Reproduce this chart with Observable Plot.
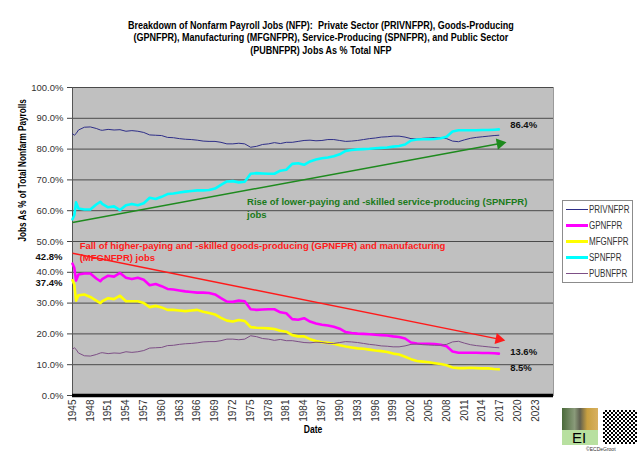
<!DOCTYPE html>
<html>
<head>
<meta charset="utf-8">
<script src="https://cdn.jsdelivr.net/npm/d3@7"></script>
<script src="https://cdn.jsdelivr.net/npm/@observablehq/plot@0.6"></script>
<style>
  body { margin: 0; background: #fff; width: 640px; height: 454px; position: relative; overflow: hidden; }
  #title { position: absolute; top: 18.5px; left: 0; width: 640px; text-align: center;
    font-family: "Liberation Sans", Arial, sans-serif; transform: scaleX(0.82); transform-origin: 325px 0;
    font-size: 11px; font-weight: bold; line-height: 12.7px; color: #000; white-space: nowrap; }
  #chart { position: absolute; top: 62px; left: 0; }
  #legend { position: absolute; left: 562px; top: 200px; width: 69px; height: 81px; background: #fff;
    border: 1px solid #8c8c8c; font-family: "Liberation Sans", Arial, sans-serif;
    font-size: 10px; color: #333; }
  .lg { position: absolute; left: 3px; height: 14px; display: flex; align-items: center; white-space: nowrap; }
  .lg span.sw { display: inline-block; width: 22px; margin-right: 1px; }
  .lg span.tx { display: inline-block; transform: scaleX(0.8); transform-origin: 0 50%; }
  #logo { position: absolute; left: 562px; top: 408px; width: 36px; height: 37px; background: #b8e0a0; }
  #logo .pic { position: absolute; left: 0; top: 0; width: 36px; height: 22px;
    background: linear-gradient(90deg, #4a6a3a 0%, #8a9a7a 35%, #606050 50%, #c8a040 70%, #d8b060 100%); }
  #logo .ei { position: absolute; left: 10px; top: 21px; font-family: "Liberation Sans", sans-serif; font-size: 15px; color: #000; }
  #qr { position: absolute; left: 603px; top: 410px; width: 34px; height: 34px;
    background: repeating-conic-gradient(#000 0 25%, #fff 0 50%) 0 0 / 4px 4px; }
  #copy { position: absolute; left: 586px; top: 446px; font-family: "Liberation Sans", sans-serif; font-size: 5px; color: #333; }
</style>
</head>
<body>
<div id="title">Breakdown of Nonfarm Payroll Jobs (NFP):&nbsp; Private Sector (PRIVNFPR), Goods-Producing<br>(GPNFPR), Manufacturing (MFGNFPR), Service-Producing (SPNFPR), and Public Sector<br>(PUBNFPR) Jobs As % Total NFP</div>
<div id="chart"></div>
<div id="legend"></div>
<div id="logo"><div class="pic"></div><div class="ei">EI</div></div>
<div id="qr"></div>
<div id="copy">©ECDeGroot</div>
<script>
const years = [1945, 1945.3, 1945.6, 1946, 1947, 1948, 1949, 1949.7,
  1950, 1951, 1952, 1953, 1954, 1955, 1956, 1957, 1958, 1959,
  1960, 1961, 1962, 1963, 1964, 1965, 1966, 1967, 1968, 1969,
  1970, 1971, 1972, 1973, 1974, 1975, 1976, 1977, 1978, 1979,
  1980, 1981, 1982, 1983, 1984, 1985, 1986, 1987, 1988, 1989,
  1990, 1991, 1992, 1993, 1994, 1995, 1996, 1997, 1998, 1999,
  2000, 2001, 2002, 2003, 2004, 2005, 2006, 2007, 2008, 2009,
  2010, 2011, 2012, 2013, 2014, 2015, 2016, 2016.8];

const PRIVNFPR = [85.0, 84.5, 85.0, 86.2, 87.1, 87.2, 86.7, 86.2,
  86.1, 86.4, 86.2, 86.3, 85.8, 86.0, 85.8, 85.4, 84.6, 84.5,
  84.4, 83.8, 83.7, 83.4, 83.2, 83.1, 82.9, 82.6, 82.5, 82.5,
  82.2, 81.7, 81.7, 81.9, 81.7, 80.6, 80.9, 81.5, 81.7, 82.1,
  81.8, 82.2, 82.2, 82.5, 82.8, 82.9, 82.7, 82.8, 83.1, 83.1,
  82.8, 82.5, 82.6, 82.8, 83.1, 83.4, 83.6, 83.9, 84.0, 84.2,
  84.2, 83.9, 83.4, 83.3, 83.5, 83.6, 83.7, 83.7, 83.4, 82.6,
  82.4, 83.0, 83.5, 83.8, 84.0, 84.2, 84.4, 84.5];

const GPNFPR = [42.8, 41.5, 37.3, 39.3, 39.6, 39.6, 38.0, 37.1,
  37.8, 38.9, 38.6, 39.8, 38.2, 37.8, 38.2, 37.6, 35.8, 36.2,
  35.5, 34.6, 34.4, 34.1, 33.8, 33.6, 33.4, 33.4, 33.3, 32.8,
  31.6, 30.5, 30.4, 30.8, 30.6, 28.0, 27.8, 27.9, 28.0, 28.0,
  27.0, 26.7, 24.8, 24.6, 25.1, 24.0, 23.4, 23.0, 22.7, 22.3,
  21.7, 20.6, 20.3, 20.1, 20.0, 19.9, 19.7, 19.6, 19.5, 19.2,
  19.0, 18.5, 17.2, 16.9, 16.8, 16.8, 16.7, 16.5, 16.0, 14.3,
  13.9, 13.9, 13.9, 13.9, 13.8, 13.8, 13.7, 13.6];

const MFGNFPR = [37.4, 36.0, 30.8, 32.5, 32.8, 32.0, 30.8, 30.0,
  30.6, 31.6, 31.3, 32.4, 30.6, 30.6, 30.6, 30.0, 28.7, 29.1,
  28.6, 27.8, 27.8, 27.6, 27.4, 27.6, 27.8, 27.2, 26.8, 26.3,
  25.2, 24.3, 24.0, 24.5, 24.2, 22.2, 22.0, 21.9, 21.8, 21.6,
  21.0, 20.7, 19.6, 19.2, 19.2, 18.3, 17.7, 17.3, 17.1, 16.8,
  16.3, 15.9, 15.6, 15.3, 15.2, 14.9, 14.6, 14.4, 14.1, 13.6,
  13.3, 12.6, 11.8, 11.2, 11.0, 10.8, 10.5, 10.2, 9.8, 9.1,
  8.9, 8.9, 9.0, 8.9, 8.8, 8.8, 8.6, 8.5];

const SPNFPR = [57.2, 58.5, 62.7, 60.7, 60.4, 60.4, 62.0, 62.9,
  62.2, 61.1, 61.4, 60.2, 61.8, 62.2, 61.8, 62.4, 64.2, 63.8,
  64.5, 65.4, 65.6, 65.9, 66.2, 66.4, 66.6, 66.6, 66.7, 67.2,
  68.4, 69.5, 69.6, 69.2, 69.4, 72.0, 72.2, 72.1, 72.0, 72.0,
  73.0, 73.3, 75.2, 75.4, 74.9, 76.0, 76.6, 77.0, 77.3, 77.7,
  78.3, 79.4, 79.7, 79.9, 80.0, 80.1, 80.3, 80.4, 80.5, 80.8,
  81.0, 81.5, 82.8, 83.1, 83.2, 83.2, 83.3, 83.5, 84.0, 85.7,
  86.1, 86.1, 86.1, 86.1, 86.2, 86.2, 86.3, 86.4];

const PUBNFPR = [15.0, 15.5, 15.0, 13.8, 12.9, 12.8, 13.3, 13.8,
  13.9, 13.6, 13.8, 13.7, 14.2, 14.0, 14.2, 14.6, 15.4, 15.5,
  15.6, 16.2, 16.3, 16.6, 16.8, 16.9, 17.1, 17.4, 17.5, 17.5,
  17.8, 18.3, 18.3, 18.1, 18.3, 19.4, 19.1, 18.5, 18.3, 17.9,
  18.2, 17.8, 17.8, 17.5, 17.2, 17.1, 17.3, 17.2, 16.9, 16.9,
  17.2, 17.5, 17.4, 17.2, 16.9, 16.6, 16.4, 16.1, 16.0, 15.8,
  15.8, 16.1, 16.6, 16.7, 16.5, 16.4, 16.3, 16.3, 16.6, 17.4,
  17.6, 17.0, 16.5, 16.2, 16.0, 15.8, 15.6, 15.5];

const seriesNames = ["PRIVNFPR", "GPNFPR", "MFGNFPR", "SPNFPR", "PUBNFPR"];
const seriesValues = [PRIVNFPR, GPNFPR, MFGNFPR, SPNFPR, PUBNFPR];
const seriesColors = ["#2e2e88", "#ff00ff", "#ffff00", "#00ffff", "#7d4f86"];
const seriesWidths = [1, 2.6, 2.6, 2.6, 1];

const xDomain = [1945, 2026];
const xTicks = d3.range(1945, 2024, 3);
const yTicks = [0, 10, 20, 30, 40, 50, 60, 70, 80, 90, 100];

// trend arrows (start year, start %, end year, end %)
const trendArrows = [
  {x1: 1945, y1: 56.2, x2: 2017, y2: 81.8, color: "#1e8a1e"},
  {x1: 1945, y1: 46.2, x2: 2016.8, y2: 18.3, color: "#ff1a1a"}
];
const trendNotes = [
  {x: 1974.4, y: 61.0, text: "Rise of lower-paying and -skilled service-producing (SPNFPR)\njobs", color: "#1a7a1a"},
  {x: 1946.2, y: 47.0, text: "Fall of higher-paying and -skilled goods-producing (GPNFPR) and manufacturing\n(MFGNFPR) jobs", color: "#ff1a1a"}
];
const endLabels = [
  {x: 2018.7, y: 88.0, text: "86.4%"},
  {x: 2018.7, y: 14.3, text: "13.6%"},
  {x: 2018.7, y: 8.9, text: "8.5%"}
];
const startLabels = [
  {x: 1945, y: 44.9, text: "42.8%"},
  {x: 1945, y: 36.6, text: "37.4%"}
];
const yTitle = "Jobs As % of Total Nonfarm Payrolls";
const xTitle = "Date";

const W = 640, H = 392, mT = 25, mB = 59, mL = 72, mR = 87;

const rows = seriesNames.flatMap((name, i) =>
  seriesValues[i].map((v, j) => ({series: name, year: years[j], value: v})));

// scales used only to orient the filled arrowheads along each trend line
const sx = Plot.scale({x: {domain: xDomain, range: [mL, W - mR]}});
const sy = Plot.scale({y: {domain: [0, 100], range: [H - mB, mT]}});
const headAngle = d => Math.atan2(sy.apply(d.y2) - sy.apply(d.y1), sx.apply(d.x2) - sx.apply(d.x1)) * 180 / Math.PI + 90;

const plot = Plot.plot({
  width: W,
  height: H,
  marginTop: mT,
  marginBottom: mB,
  marginLeft: mL,
  marginRight: mR,
  style: {fontFamily: "'Liberation Sans', Arial, sans-serif", background: "transparent"},
  x: {domain: xDomain},
  y: {domain: [0, 100]},
  marks: [
    Plot.frame({fill: "#c0c0c0", stroke: "#9a9a9a"}),
    Plot.ruleY(yTicks.slice(1), {stroke: "#4a4a4a", strokeWidth: 1}),
    Plot.ruleX([1945], {stroke: "#555", strokeWidth: 1}),
    Plot.axisY({ticks: yTicks, tickFormat: d => d.toFixed(1) + "%", tickSize: 5, tickPadding: 4,
      fontSize: 9.5, stroke: "#444", fill: "#333", label: null}),
    Plot.axisX({ticks: xTicks, tickFormat: d => String(d), tickRotate: -90, tickSize: 0, tickPadding: 4,
      fontSize: 10, fill: "#333", label: null}),
    ...seriesNames.map((name, i) =>
      Plot.line(rows.filter(r => r.series === name), {x: "year", y: "value",
        stroke: seriesColors[i], strokeWidth: seriesWidths[i], curve: "linear"})),
    Plot.ruleY([0], {stroke: "#000", strokeWidth: 3.5}),
    Plot.link(trendArrows, {x1: "x1", y1: "y1", x2: "x2", y2: "y2", stroke: "color", strokeWidth: 1.5}),
    Plot.dot(trendArrows, {x: "x2", y: "y2", symbol: "triangle", r: 4.2, fill: "color", stroke: "none",
      rotate: headAngle}),
    Plot.text(trendNotes, {x: "x", y: "y", text: "text", fill: "color", textAnchor: "start",
      lineAnchor: "middle", lineHeight: 1.27, fontSize: 9.5, fontWeight: "bold"}),
    Plot.text(endLabels, {x: "x", y: "y", text: "text", textAnchor: "start", fontSize: 9.5,
      fontWeight: "bold", fill: "#111"}),
    Plot.text(startLabels, {x: "x", y: "y", text: "text", textAnchor: "end", dx: -10, fontSize: 9.5,
      fontWeight: "bold", fill: "#111"}),
    Plot.text([yTitle], {frameAnchor: "left", rotate: -90, dx: -50,
      fontSize: 10.5, fontWeight: "bold", fill: "#000"}),
    Plot.text([xTitle], {frameAnchor: "bottom", dy: 37, fontSize: 11, fontWeight: "bold", fill: "#000"})
  ]
});
// emulate the narrow (condensed) face of the original axis titles
d3.select(plot).selectAll("text")
  .filter(function () { return this.textContent === yTitle || this.textContent === xTitle; })
  .each(function () {
    const t = this.getAttribute("transform") || "";
    this.setAttribute("transform", t + " scale(0.78,1)");
  });
document.getElementById("chart").appendChild(plot);

const legend = document.getElementById("legend");
seriesNames.forEach((name, i) => {
  const row = document.createElement("div");
  row.className = "lg";
  row.style.top = (1 + i * 16.2) + "px";
  const sw = document.createElement("span");
  sw.className = "sw";
  sw.style.height = (seriesWidths[i] > 1 ? 3 : 1) + "px";
  sw.style.background = seriesColors[i];
  row.appendChild(sw);
  const tx = document.createElement("span");
  tx.className = "tx";
  tx.textContent = name;
  row.appendChild(tx);
  legend.appendChild(row);
});
</script>
</body>
</html>
